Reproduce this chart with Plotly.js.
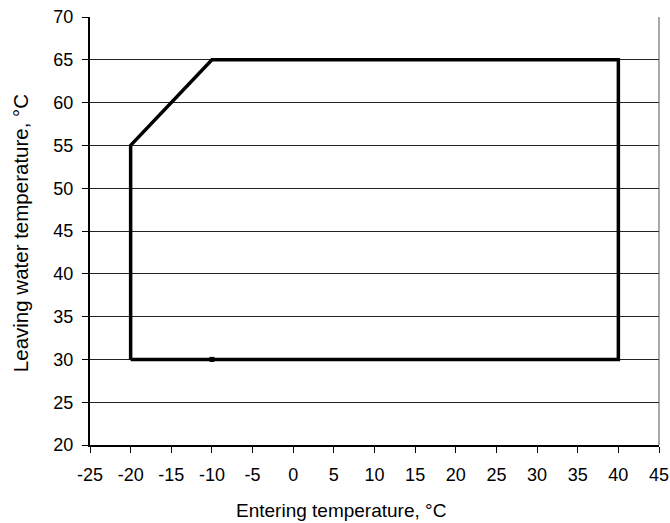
<!DOCTYPE html>
<html>
<head>
<meta charset="utf-8">
<script src="https://cdn.plot.ly/plotly-3.0.1.min.js"></script>
<style>html,body{margin:0;padding:0;background:#fff;}#chart{width:670px;height:523px;}</style>
</head>
<body>
<div id="chart"></div>
<script>
const enteringTemp = [-20, -20, -10, 40, 40, -10, -20];
const leavingTemp = [30, 55, 65, 65, 30, 30, 30];
const xTicks = [-25, -20, -15, -10, -5, 0, 5, 10, 15, 20, 25, 30, 35, 40, 45];
const yTicks = [20, 25, 30, 35, 40, 45, 50, 55, 60, 65, 70];
const xTitle = 'Entering temperature, °C';
const yTitle = 'Leaving water temperature, °C';

const trace = {
  x: enteringTemp,
  y: leavingTemp,
  mode: 'lines',
  line: {color: '#000', width: 3.5},
  hoverinfo: 'skip'
};
const markerTrace = {
  x: [enteringTemp[5]],
  y: [leavingTemp[5]],
  mode: 'markers',
  marker: {color: '#000', size: 5, symbol: 'square'},
  hoverinfo: 'skip'
};

const font = {family: 'Liberation Sans, Arial, sans-serif', color: '#000'};
const layout = {
  width: 670, height: 523,
  margin: {l: 90, r: 11, t: 17, b: 78},
  paper_bgcolor: '#fff', plot_bgcolor: '#fff',
  showlegend: false,
  font: Object.assign({size: 18}, font),
  xaxis: {
    range: [-25, 45], tickvals: xTicks, ticktext: xTicks.map(String),
    showgrid: false, zeroline: false,
    showline: true, linecolor: '#000', linewidth: 2,
    ticks: 'outside', ticklen: 6, tickcolor: '#000', tickwidth: 1,
    ticklabelstandoff: 6,
    tickfont: Object.assign({size: 18}, font),
    automargin: false
  },
  yaxis: {
    range: [20, 70], tickvals: yTicks, ticktext: yTicks.map(String),
    showgrid: true, gridcolor: '#222', gridwidth: 1, zeroline: false,
    showline: true, linecolor: '#000', linewidth: 2,
    ticks: 'outside', ticklen: 6, tickcolor: '#000', tickwidth: 1,
    ticklabelstandoff: 5,
    tickfont: Object.assign({size: 18}, font),
    automargin: false
  },
  annotations: [
    {text: xTitle, xref: 'paper', yref: 'paper', x: 0.441, y: -0.152,
     xanchor: 'center', yanchor: 'middle', showarrow: false,
     font: Object.assign({size: 19}, font)},
    {text: yTitle, xref: 'paper', yref: 'paper', x: -0.123, y: 0.495,
     xanchor: 'center', yanchor: 'middle', showarrow: false, textangle: -90,
     font: Object.assign({size: 20.5}, font)}
  ],
  shapes: [{
    type: 'line', xref: 'paper', yref: 'paper', x0: 1, x1: 1, y0: 0, y1: 1,
    line: {color: '#555', width: 1}
  }]
};
Plotly.newPlot('chart', [trace, markerTrace], layout, {displayModeBar: false, staticPlot: true});
</script>
</body>
</html>
